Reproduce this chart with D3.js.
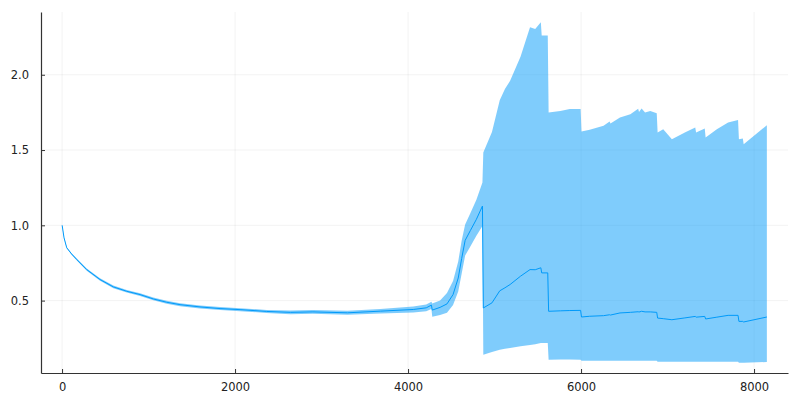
<!DOCTYPE html>
<html>
<head>
<meta charset="utf-8">
<script src="https://cdn.jsdelivr.net/npm/d3@7"></script>
<style>
  html, body { margin: 0; padding: 0; background: #fff; }
  svg { display: block; }
  .tick text { font-family: "DejaVu Sans", sans-serif; font-size: 11.5px; fill: #222; }
</style>
</head>
<body>
<div id="chart"></div>
<script>
// data
let xs = [1, 23, 54, 110, 170, 285, 439, 593, 748, 902, 1055, 1210, 1364, 1595, 1827, 2058, 2366, 2640, 2900, 3300, 3680, 4060, 4210, 4270, 4280,
  4370, 4450, 4520, 4580, 4620, 4660, 4720, 4790, 4860, 4870, 4970, 5060, 5120, 5180, 5300, 5410, 5470, 5535,
  5545, 5615, 5625, 5760, 5870, 5995, 6005, 6100, 6260, 6330, 6340, 6450, 6570, 6660, 6670, 6700, 6740, 6800, 6875, 6885, 6950, 7050,
  7200, 7320, 7330, 7430, 7440, 7570, 7700, 7815, 7825, 7870, 7880, 8148];
let meanVals = [1.0, 0.917, 0.851, 0.81, 0.773, 0.706, 0.64, 0.591, 0.562, 0.54, 0.511, 0.489, 0.473, 0.458, 0.447, 0.44, 0.428, 0.422, 0.425, 0.419, 0.43, 0.441, 0.452, 0.47, 0.437,
  0.455, 0.478, 0.54, 0.65, 0.78, 0.9, 0.965, 1.04, 1.128, 0.451, 0.485, 0.565, 0.585, 0.607, 0.662, 0.706, 0.705, 0.718,
  0.684, 0.684, 0.429, 0.432, 0.434, 0.435, 0.391, 0.396, 0.4, 0.406, 0.404, 0.418, 0.422, 0.426, 0.424, 0.429, 0.425, 0.425, 0.422, 0.384, 0.38, 0.373,
  0.385, 0.395, 0.39, 0.395, 0.378, 0.39, 0.402, 0.402, 0.362, 0.362, 0.358, 0.391];
let lowerVals = [1.0, 0.914, 0.847, 0.805, 0.767, 0.699, 0.632, 0.582, 0.553, 0.531, 0.502, 0.479, 0.463, 0.448, 0.437, 0.43, 0.418, 0.41, 0.413, 0.406, 0.415, 0.421, 0.43, 0.445, 0.392,
  0.405, 0.42, 0.47, 0.56, 0.68, 0.8, 0.86, 0.93, 0.995, 0.14, 0.158, 0.174, 0.18, 0.185, 0.196, 0.205, 0.21, 0.218,
  0.218, 0.218, 0.107, 0.108, 0.108, 0.107, 0.1, 0.1, 0.1, 0.1, 0.1, 0.1, 0.1, 0.101, 0.101, 0.101, 0.1, 0.1, 0.1, 0.094, 0.094, 0.094,
  0.094, 0.094, 0.094, 0.094, 0.094, 0.094, 0.094, 0.094, 0.087, 0.087, 0.087, 0.092];
let upperVals = [1.0, 0.92, 0.855, 0.815, 0.779, 0.713, 0.648, 0.6, 0.571, 0.549, 0.52, 0.499, 0.483, 0.468, 0.457, 0.45, 0.438, 0.434, 0.437, 0.432, 0.445, 0.461, 0.474, 0.492, 0.48,
  0.5, 0.55, 0.63, 0.76, 0.9, 1.006, 1.08, 1.17, 1.284, 1.483, 1.62, 1.83, 1.905, 1.96, 2.12, 2.315, 2.304, 2.349,
  2.26, 2.26, 1.75, 1.76, 1.772, 1.772, 1.623, 1.634, 1.661, 1.69, 1.676, 1.716, 1.738, 1.775, 1.752, 1.776, 1.75, 1.76, 1.745, 1.617, 1.638, 1.572,
  1.616, 1.65, 1.616, 1.643, 1.583, 1.638, 1.683, 1.7, 1.572, 1.576, 1.539, 1.665];
let xTicks = [0, 2000, 4000, 6000, 8000];
let yTicks = [0.5, 1.0, 1.5, 2.0];

let W = 800, H = 400;
let margin = { top: 12, right: 12, bottom: 27, left: 41 },
    width = W - margin.left - margin.right,
    height = H - margin.top - margin.bottom;

let data = xs.map(function (x, i) {
  return { x: x, y: meanVals[i], lo: lowerVals[i], hi: upperVals[i] };
});

// widen the data extent by 3% like Plots does
function widen(ext) {
  let w = ext[1] - ext[0];
  return [ext[0] - 0.03 * w, ext[1] + 0.03 * w];
}

let x = d3.scaleLinear()
  .domain(widen(d3.extent(xs)))
  .range([0, width]);
let y = d3.scaleLinear()
  .domain(widen([d3.min(lowerVals), d3.max(upperVals)]))
  .range([height, 0]);

let svg = d3.select("#chart").append("svg")
  .attr("width", W)
  .attr("height", H)
  .append("g")
  .attr("transform", "translate(" + margin.left + "," + margin.top + ")");

// grid
svg.append("g").selectAll("line").data(xTicks).enter().append("line")
  .attr("x1", d => x(d)).attr("x2", d => x(d))
  .attr("y1", 0).attr("y2", height)
  .attr("stroke", "#000").attr("stroke-opacity", 0.1).attr("stroke-width", 0.5);
svg.append("g").selectAll("line").data(yTicks).enter().append("line")
  .attr("x1", 0).attr("x2", width)
  .attr("y1", d => y(d)).attr("y2", d => y(d))
  .attr("stroke", "#000").attr("stroke-opacity", 0.1).attr("stroke-width", 0.5);

// ribbon
svg.append("path")
  .datum(data)
  .attr("fill", "#009afa")
  .attr("fill-opacity", 0.5)
  .attr("stroke", "none")
  .attr("d", d3.area()
    .x(d => x(d.x))
    .y0(d => y(d.lo))
    .y1(d => y(d.hi)));

// mean line
svg.append("path")
  .datum(data)
  .attr("fill", "none")
  .attr("stroke", "#009afa")
  .attr("stroke-width", 1)
  .attr("d", d3.line()
    .x(d => x(d.x))
    .y(d => y(d.y)));

// axes
let xAxis = svg.append("g")
  .attr("transform", "translate(0," + height + ")")
  .call(d3.axisBottom(x).tickValues(xTicks).tickFormat(d3.format("d")).tickSize(-4).tickPadding(10).tickSizeOuter(0));
let yAxis = svg.append("g")
  .call(d3.axisLeft(y).tickValues(yTicks).tickFormat(d3.format(".1f")).tickSize(-4).tickPadding(12).tickSizeOuter(0));

[xAxis, yAxis].forEach(function (a) {
  a.select(".domain").attr("stroke", "#333").attr("stroke-width", 1.2);
  a.selectAll(".tick line").attr("stroke", "#333").attr("stroke-width", 1);
});
</script>
</body>
</html>
